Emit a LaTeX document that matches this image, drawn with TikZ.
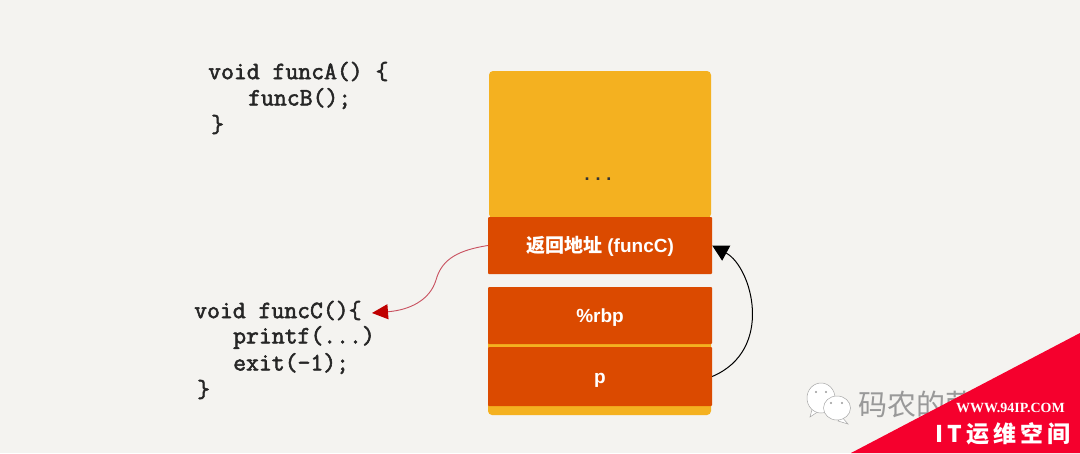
\documentclass[tikz,border=0pt]{standalone}
\usepackage{fontspec}
\usepackage{xcolor}
\setmainfont{Liberation Sans}
\newfontfamily\codefont[FakeBold=2.2]{Latin Modern Mono}
\newfontfamily\cjk{Noto Sans CJK SC}
\newfontfamily\badgecjk[LetterSpace=18]{Noto Sans CJK SC}
\newfontfamily\badgeurl{Liberation Serif}
\usetikzlibrary{arrows.meta, positioning}
\definecolor{paperbg}{HTML}{F4F3F0}
\definecolor{stackyellow}{HTML}{F4B120}
\definecolor{stackorange}{HTML}{DB4A00}
\definecolor{badgered}{HTML}{F5002D}
\definecolor{retline}{HTML}{C8505F}
\tikzset{
  codeline/.style={anchor=west, inner sep=0pt, text=black!85, font=\codefont\fontsize{25}{27}\selectfont},
  slotbox/.style={fill=stackorange, text=white, minimum width=224pt, inner sep=0pt, rounded corners=1pt,
    text height=15pt, text depth=2pt, font=\bfseries\fontsize{19}{21}\selectfont},
  bubble/.style={fill=white, draw=black!35, line width=0.5pt},
}
\begin{document}
\begin{tikzpicture}[x=1pt, y=-1pt]
\useasboundingbox (0,0) rectangle (1080,453);
\fill[paperbg] (0,0) rectangle (1080,453);

% code on the left
\node[codeline] (voidA) at (208,71.5) {void funcA() \{};
\node[codeline] (callB) at (248,98.5) {funcB();};
\node[codeline] (closeA) at (211,124.5) {\}};
\node[codeline] (voidC) at (194,310.5) {void funcC()\{};
\node[codeline] (printC) at (233,337.5) {printf(...)};
\node[codeline] (exitC) at (233,363.5) {exit(-1);};
\node[codeline] (closeC) at (197,389.5) {\}};

% stack
\node[fill=stackyellow, rounded corners=4pt, minimum width=222pt, minimum height=147pt, inner sep=0pt] (top) at (600,144.5) {};
\node[inner sep=0pt, text=black!80, font=\bfseries\fontsize{18}{20}\selectfont] (dots) at (598,179) {.\,\,.\,\,.};
\node[fill=stackyellow, rounded corners=4pt, minimum width=223pt, minimum height=128pt, inner sep=0pt] (under) at (599.5,351) {};
\node[slotbox, minimum height=57pt] (ret) at (600,245.5) {{\cjk\bfseries 返回地址} (funcC)};
\node[slotbox, minimum height=57pt] (rbp) at (600,315.5) {\%rbp};
\node[slotbox, minimum height=59pt] (p) at (600,376.5) {p};

% connectors
\coordinate (entryC) at (372,313);
\draw[draw=retline, line width=0.9pt, -{Triangle[length=16pt, width=15pt, color=red!75!black]}]
  (ret.west) .. controls (460,250) and (442,258) .. (436,280)
  .. controls (430,300) and (410,310) .. (entryC);
\draw[black, line width=1pt, -{Triangle[length=16pt, width=17pt]}]
  (p.east) .. controls (775,350) and (752,267) .. (ret.east);

% watermark
\path[bubble] (813,406) -- (819,411) -- (810,417) -- cycle;
\path[bubble] (821,398) ellipse (14 and 15);
\path[bubble] (841,416) -- (848,424) -- (838,421) -- cycle;
\path[bubble] (837,408) ellipse (13.5 and 12);
\fill[black!40] (816,392) circle (1.2) (826,392) circle (1.2) (831,403) circle (1.2) (842,403) circle (1.2);
\node[inner sep=0pt, text=black!40, font=\cjk\fontsize{29}{32}\selectfont] (marktext) at (916,404) {码农的荣};

% corner badge
\fill[badgered] (1080,333) -- (851,453) -- (1080,453) -- cycle;
\node[inner sep=0pt, text=white, font=\badgeurl\bfseries\fontsize{14}{16}\selectfont] (badgeurl) at (1010.5,408) {WWW.94IP.COM};
\node[inner sep=0pt, text=white, font=\badgecjk\bfseries\fontsize{23}{27}\selectfont] (badgename) at (1003,434) {IT运维空间};
\end{tikzpicture}
\end{document}
